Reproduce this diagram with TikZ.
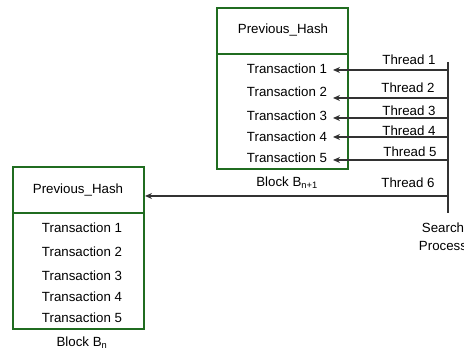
\documentclass[tikz,border=0pt]{standalone}
\usepackage{fontspec}
\setmainfont{Liberation Sans}
\usetikzlibrary{arrows.meta}
\definecolor{blockgreen}{RGB}{32,108,32}
\definecolor{wire}{RGB}{50,50,50}
\begin{document}
\begin{tikzpicture}[x=1pt,y=-1pt,
  every node/.style={font=\fontsize{13.3}{16}\selectfont, inner sep=0pt},
  blockbox/.style={draw=blockgreen, line width=1.9pt},
  wirearrow/.style={draw=wire, line width=1.2pt, -{Stealth[length=7pt,width=6pt]}},
  bus/.style={draw=wire, line width=1.2pt}]
\useasboundingbox (0,0) rectangle (464,352);

% block B_{n+1}
\draw[blockbox] (217,8) rectangle (348,169);
\draw[blockbox] (217,54) -- (348,54);
\node (hashA) at (283,30) {Previous\_Hash};
\node (tA1) at (287,69) {Transaction 1};
\node (tA2) at (287,92) {Transaction 2};
\node (tA3) at (287,116) {Transaction 3};
\node (tA4) at (287,137) {Transaction 4};
\node (tA5) at (287,158) {Transaction 5};
\node (labA) at (287,183) {Block B\textsubscript{n+1}};

% block B_n
\draw[blockbox] (13,167) rectangle (144,329);
\draw[blockbox] (13,213) -- (144,213);
\node (hashB) at (78,190) {Previous\_Hash};
\node (tB1) at (82,228) {Transaction 1};
\node (tB2) at (82,252) {Transaction 2};
\node (tB3) at (82,276) {Transaction 3};
\node (tB4) at (82,297) {Transaction 4};
\node (tB5) at (82,318) {Transaction 5};
\node (labB) at (82,343) {Block B\textsubscript{n}};

% search process bus
\coordinate (busTop) at (448,62);
\coordinate (busBot) at (448,213);
\draw[bus] (busTop) -- (busBot);
\node[align=center, font=\fontsize{13.3}{17.5}\selectfont] (search) at (443,237) {Search\\Process};

% thread arrows
\foreach \i/\yy in {1/70,2/98,3/118,4/137,5/160}{
  \coordinate (s\i) at (448,\yy);
  \coordinate (e\i) at (333,\yy);
  \draw[wirearrow] (s\i) -- (e\i);
}
\coordinate (s6) at (448,196);
\coordinate (e6) at (145,196);
\draw[wirearrow] (s6) -- (e6);

\node (th1) at (409,60) {Thread 1};
\node (th2) at (408,88) {Thread 2};
\node (th3) at (409,111) {Thread 3};
\node (th4) at (409,131) {Thread 4};
\node (th5) at (410,152) {Thread 5};
\node (th6) at (408,183) {Thread 6};
\end{tikzpicture}
\end{document}
